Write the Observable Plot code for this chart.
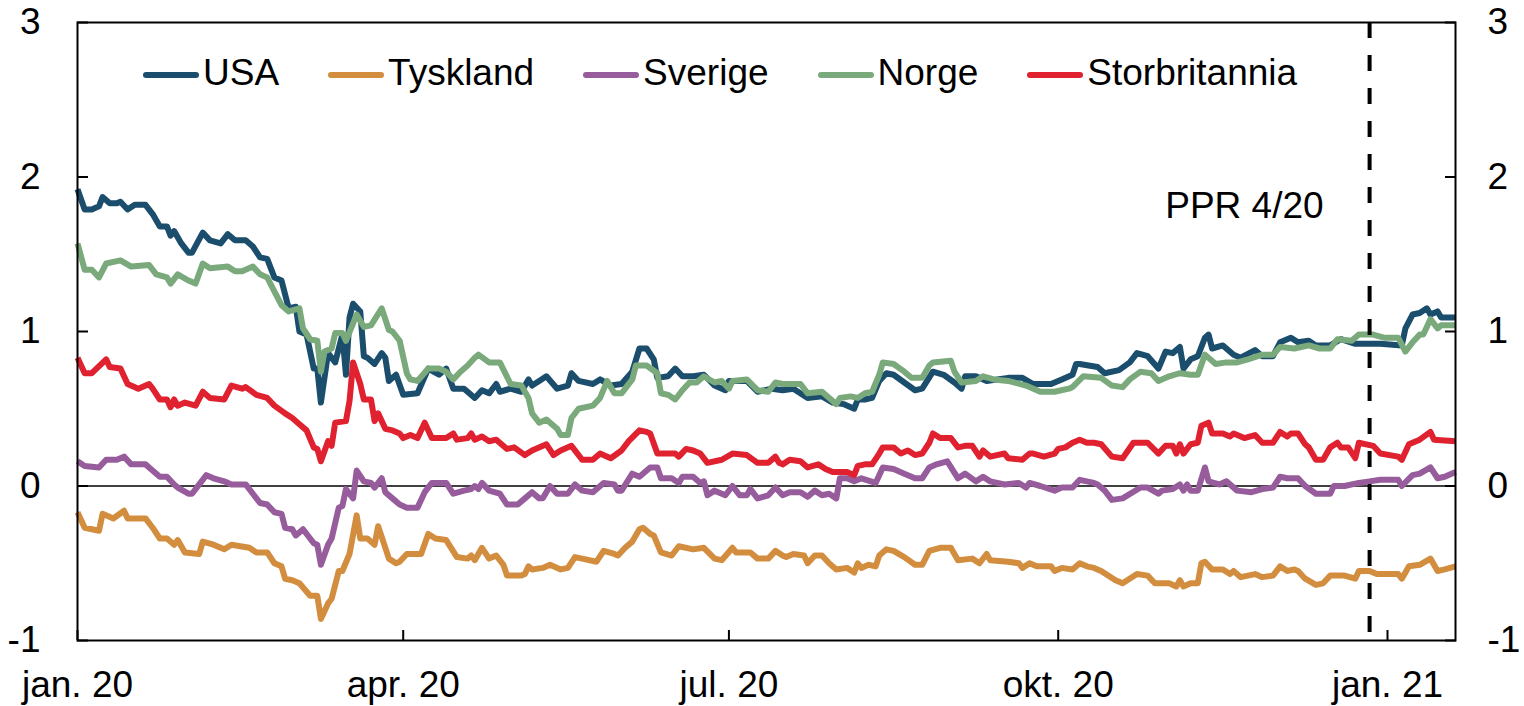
<!DOCTYPE html>
<html><head><meta charset="utf-8">
<script src="https://cdn.jsdelivr.net/npm/d3@7"></script>
<script src="https://cdn.jsdelivr.net/npm/@observablehq/plot@0.6"></script>
<style>
body{margin:0;background:#fff;font-family:"Liberation Sans",Arial,sans-serif;}
#wrap{position:relative;width:1524px;height:706px;}
#legend{position:absolute;left:143px;top:54px;display:flex;gap:49px;font-size:37px;line-height:37px;color:#000;}
.item{display:flex;align-items:center;white-space:nowrap;}
.sw{width:56px;height:6px;margin-right:4px;border-radius:3px;position:relative;top:2px;}
</style></head><body><div id="wrap"><div id="legend"></div></div>
<script>
// Series names and colours
const seriesNames = ["USA", "Tyskland", "Sverige", "Norge", "Storbritannia"];
const seriesColors = ["#1b4d6d", "#d38d3f", "#975c9b", "#7aa97c", "#e0212f"];

// [days since 1 Jan 2020, value]
const usa = [[0,1.92],[2,1.79],[4,1.79],[6,1.81],[7,1.87],[9,1.83],[11,1.83],[12,1.84],[14,1.79],[16,1.82],[19,1.82],[21,1.76],[23,1.68],[25,1.68],[26,1.62],[27,1.65],[29,1.57],[31,1.51],[32,1.51],[35,1.64],[37,1.59],[40,1.57],[42,1.63],[44,1.59],[47,1.59],[49,1.55],[51,1.48],[53,1.47],[55,1.35],[57,1.33],[59,1.15],[61,1.16],[62,1.00],[64,0.98],[66,0.76],[67,0.76],[68,0.54],[70,0.86],[72,0.80],[74,0.98],[75,0.72],[76,1.09],[77,1.18],[79,1.13],[80,0.84],[81,0.83],[83,0.79],[85,0.86],[86,0.83],[87,0.68],[89,0.72],[91,0.59],[95,0.60],[98,0.76],[101,0.72],[103,0.76],[105,0.63],[108,0.63],[111,0.57],[113,0.62],[115,0.60],[117,0.66],[118,0.61],[121,0.63],[124,0.61],[126,0.69],[127,0.65],[129,0.68],[131,0.71],[134,0.63],[137,0.65],[138,0.73],[140,0.68],[144,0.66],[146,0.69],[149,0.65],[152,0.66],[155,0.74],[157,0.89],[159,0.89],[161,0.82],[162,0.70],[165,0.71],[167,0.76],[169,0.71],[172,0.71],[175,0.72],[178,0.65],[181,0.62],[182,0.68],[187,0.68],[190,0.61],[194,0.63],[197,0.62],[200,0.63],[204,0.57],[208,0.58],[211,0.54],[214,0.53],[217,0.50],[218,0.56],[220,0.56],[222,0.57],[224,0.68],[226,0.73],[228,0.72],[231,0.67],[234,0.62],[236,0.63],[239,0.74],[242,0.72],[245,0.67],[247,0.63],[248,0.71],[251,0.71],[254,0.68],[260,0.70],[264,0.70],[267,0.66],[272,0.66],[275,0.69],[278,0.72],[279,0.79],[280,0.79],[285,0.77],[287,0.73],[291,0.75],[294,0.80],[296,0.86],[299,0.84],[302,0.76],[304,0.87],[306,0.86],[308,0.90],[309,0.76],[311,0.82],[313,0.84],[315,0.96],[316,0.98],[317,0.89],[320,0.91],[323,0.85],[325,0.83],[329,0.88],[331,0.84],[334,0.84],[336,0.93],[339,0.96],[341,0.93],[344,0.94],[346,0.91],[350,0.91],[353,0.95],[357,0.92],[361,0.92],[364,0.92],[370,0.91],[371,1.02],[373,1.11],[375,1.12],[377,1.15],[378,1.11],[380,1.13],[381,1.09],[385,1.09]];

const tyskland = [[0,-0.17],[2,-0.27],[6,-0.29],[7,-0.18],[10,-0.21],[13,-0.16],[14,-0.21],[19,-0.21],[21,-0.27],[23,-0.34],[25,-0.34],[27,-0.38],[28,-0.35],[30,-0.43],[34,-0.44],[35,-0.36],[38,-0.38],[41,-0.41],[43,-0.38],[48,-0.40],[50,-0.43],[53,-0.43],[55,-0.50],[57,-0.52],[58,-0.60],[60,-0.61],[62,-0.63],[65,-0.71],[67,-0.71],[68,-0.86],[70,-0.76],[71,-0.73],[73,-0.55],[74,-0.55],[76,-0.44],[78,-0.19],[79,-0.34],[81,-0.34],[83,-0.38],[84,-0.26],[87,-0.47],[89,-0.50],[90,-0.49],[92,-0.44],[96,-0.44],[98,-0.31],[100,-0.34],[103,-0.35],[106,-0.46],[109,-0.47],[110,-0.45],[111,-0.48],[113,-0.40],[115,-0.47],[117,-0.45],[119,-0.51],[120,-0.58],[124,-0.58],[125,-0.57],[126,-0.52],[127,-0.54],[130,-0.53],[132,-0.51],[135,-0.54],[137,-0.53],[139,-0.46],[141,-0.47],[145,-0.49],[147,-0.42],[150,-0.44],[151,-0.45],[153,-0.40],[155,-0.36],[157,-0.28],[158,-0.27],[160,-0.31],[161,-0.32],[163,-0.43],[166,-0.45],[168,-0.39],[172,-0.41],[175,-0.40],[178,-0.47],[180,-0.48],[183,-0.40],[184,-0.43],[188,-0.43],[190,-0.47],[193,-0.47],[195,-0.42],[197,-0.45],[198,-0.46],[200,-0.44],[203,-0.45],[204,-0.50],[206,-0.45],[208,-0.45],[210,-0.50],[212,-0.54],[215,-0.53],[217,-0.56],[218,-0.50],[219,-0.53],[221,-0.51],[223,-0.52],[224,-0.45],[226,-0.41],[228,-0.42],[231,-0.46],[234,-0.51],[236,-0.51],[238,-0.42],[241,-0.40],[244,-0.40],[246,-0.48],[250,-0.47],[252,-0.50],[254,-0.44],[255,-0.48],[260,-0.49],[263,-0.50],[264,-0.53],[266,-0.50],[268,-0.52],[272,-0.52],[273,-0.55],[275,-0.53],[278,-0.54],[280,-0.50],[282,-0.52],[284,-0.53],[286,-0.55],[290,-0.61],[292,-0.63],[296,-0.57],[299,-0.58],[301,-0.63],[305,-0.63],[307,-0.65],[308,-0.61],[309,-0.65],[311,-0.63],[313,-0.63],[314,-0.50],[315,-0.49],[317,-0.54],[320,-0.54],[322,-0.57],[323,-0.55],[325,-0.59],[329,-0.57],[331,-0.59],[334,-0.58],[336,-0.52],[338,-0.55],[340,-0.54],[341,-0.55],[343,-0.60],[346,-0.64],[348,-0.63],[350,-0.58],[354,-0.58],[357,-0.60],[358,-0.55],[361,-0.55],[363,-0.57],[369,-0.57],[370,-0.60],[372,-0.52],[375,-0.51],[378,-0.47],[380,-0.55],[382,-0.54],[385,-0.52]];

const sverige = [[0,0.16],[2,0.13],[6,0.12],[8,0.17],[11,0.17],[13,0.19],[15,0.14],[19,0.14],[20,0.12],[23,0.06],[25,0.06],[27,0.01],[28,-0.01],[31,-0.05],[32,-0.05],[34,0.01],[36,0.07],[38,0.05],[41,0.03],[43,0.01],[47,0.01],[49,-0.05],[51,-0.11],[53,-0.12],[55,-0.17],[57,-0.18],[58,-0.27],[60,-0.28],[61,-0.32],[63,-0.28],[65,-0.34],[66,-0.37],[67,-0.38],[68,-0.51],[70,-0.38],[71,-0.34],[73,-0.14],[74,-0.13],[75,-0.02],[77,-0.08],[78,0.10],[80,0.03],[82,0.02],[83,-0.01],[85,0.05],[86,-0.04],[88,-0.08],[90,-0.12],[92,-0.14],[95,-0.14],[97,-0.04],[99,0.02],[103,0.02],[105,-0.05],[108,-0.03],[110,-0.02],[111,0.00],[112,-0.02],[113,0.02],[115,-0.03],[118,-0.05],[120,-0.12],[123,-0.12],[125,-0.08],[127,-0.04],[129,-0.08],[130,-0.08],[132,0.00],[134,-0.05],[137,-0.05],[139,0.01],[141,-0.03],[144,-0.04],[147,0.02],[150,0.01],[151,-0.03],[152,-0.03],[155,0.08],[157,0.06],[160,0.12],[162,0.12],[163,0.05],[166,0.05],[168,0.02],[169,0.06],[172,0.06],[174,0.02],[175,0.03],[176,-0.06],[178,-0.03],[181,-0.06],[183,0.00],[185,-0.06],[187,-0.06],[188,-0.02],[190,-0.08],[193,-0.06],[195,-0.01],[197,-0.06],[199,-0.04],[202,-0.04],[204,-0.07],[206,-0.03],[208,-0.06],[210,-0.05],[212,-0.08],[213,0.05],[215,0.05],[217,0.03],[219,0.05],[223,0.02],[225,0.12],[228,0.11],[231,0.08],[234,0.05],[236,0.05],[238,0.12],[240,0.14],[243,0.16],[246,0.05],[248,0.08],[251,0.03],[253,0.06],[255,0.03],[259,0.01],[263,0.02],[265,-0.01],[266,0.02],[269,0.00],[273,-0.03],[275,-0.01],[278,-0.01],[280,0.04],[284,0.02],[285,0.01],[287,-0.03],[289,-0.09],[292,-0.08],[297,-0.01],[299,-0.01],[302,-0.05],[303,-0.03],[306,-0.02],[308,0.01],[309,-0.03],[310,0.01],[311,-0.03],[313,-0.03],[315,0.12],[316,0.03],[319,0.01],[321,0.03],[324,-0.03],[328,-0.04],[331,-0.02],[334,-0.01],[336,0.06],[338,0.05],[341,0.05],[343,0.00],[346,-0.05],[350,-0.05],[351,0.00],[354,0.00],[358,0.02],[361,0.03],[364,0.04],[369,0.04],[370,0.00],[373,0.07],[375,0.08],[378,0.12],[380,0.05],[382,0.06],[385,0.09]];

const norge = [[0,1.57],[2,1.40],[4,1.40],[6,1.35],[8,1.44],[12,1.46],[15,1.42],[20,1.43],[22,1.37],[25,1.35],[26,1.31],[28,1.37],[31,1.33],[33,1.31],[35,1.44],[37,1.41],[42,1.42],[44,1.39],[46,1.39],[49,1.42],[51,1.37],[53,1.35],[55,1.26],[57,1.17],[59,1.13],[62,1.15],[63,1.02],[65,0.95],[67,0.94],[68,0.74],[69,0.87],[71,0.89],[72,0.99],[74,0.99],[75,0.94],[78,1.11],[80,1.03],[82,1.04],[85,1.15],[87,1.01],[88,1.00],[90,0.94],[92,0.73],[93,0.69],[95,0.68],[98,0.76],[101,0.76],[103,0.74],[105,0.69],[107,0.74],[109,0.78],[111,0.83],[112,0.85],[115,0.80],[118,0.80],[121,0.66],[124,0.65],[126,0.57],[127,0.47],[129,0.41],[131,0.43],[134,0.37],[135,0.33],[137,0.33],[138,0.44],[140,0.50],[144,0.52],[146,0.57],[148,0.68],[150,0.60],[152,0.60],[155,0.69],[156,0.78],[159,0.78],[162,0.73],[163,0.60],[165,0.59],[167,0.56],[169,0.62],[171,0.67],[173,0.67],[175,0.71],[178,0.67],[180,0.68],[182,0.63],[183,0.68],[187,0.69],[190,0.62],[193,0.61],[195,0.67],[197,0.66],[202,0.66],[204,0.60],[208,0.61],[212,0.53],[213,0.57],[216,0.58],[218,0.57],[220,0.60],[222,0.61],[224,0.72],[225,0.80],[228,0.79],[231,0.74],[233,0.70],[236,0.70],[238,0.78],[239,0.80],[244,0.81],[245,0.74],[247,0.67],[251,0.68],[253,0.71],[256,0.69],[260,0.68],[265,0.65],[269,0.61],[273,0.61],[277,0.63],[278,0.64],[281,0.71],[286,0.70],[289,0.65],[292,0.64],[294,0.69],[297,0.74],[300,0.73],[302,0.68],[305,0.71],[308,0.73],[311,0.72],[313,0.72],[315,0.85],[318,0.79],[321,0.80],[324,0.80],[327,0.82],[331,0.85],[334,0.85],[336,0.90],[340,0.89],[344,0.91],[347,0.89],[350,0.89],[352,0.95],[356,0.94],[358,0.98],[362,0.98],[365,0.96],[369,0.96],[371,0.87],[373,0.93],[375,0.98],[376,0.98],[378,1.08],[380,1.02],[381,1.04],[385,1.04]];

const storbritannia = [[0,0.83],[2,0.73],[4,0.73],[8,0.82],[9,0.77],[12,0.76],[14,0.66],[17,0.63],[20,0.66],[21,0.63],[23,0.56],[25,0.56],[26,0.51],[27,0.56],[28,0.52],[30,0.54],[33,0.52],[35,0.61],[37,0.57],[41,0.56],[43,0.65],[46,0.63],[47,0.64],[50,0.59],[53,0.57],[55,0.52],[58,0.47],[60,0.44],[62,0.40],[64,0.36],[66,0.25],[67,0.24],[68,0.16],[70,0.29],[71,0.26],[72,0.41],[75,0.42],[76,0.55],[77,0.80],[79,0.66],[80,0.56],[82,0.56],[83,0.42],[84,0.47],[86,0.37],[88,0.36],[90,0.34],[91,0.31],[93,0.33],[95,0.31],[97,0.41],[99,0.31],[103,0.31],[105,0.34],[106,0.30],[109,0.31],[110,0.34],[111,0.30],[113,0.32],[115,0.29],[117,0.30],[120,0.24],[122,0.25],[125,0.20],[127,0.23],[131,0.27],[133,0.20],[135,0.23],[138,0.26],[141,0.17],[144,0.17],[146,0.21],[148,0.19],[149,0.18],[152,0.23],[154,0.29],[157,0.36],[159,0.35],[160,0.34],[162,0.21],[167,0.21],[168,0.19],[170,0.24],[172,0.23],[174,0.21],[176,0.15],[180,0.17],[183,0.21],[187,0.20],[190,0.15],[193,0.15],[195,0.19],[196,0.15],[197,0.14],[199,0.17],[202,0.16],[204,0.12],[207,0.14],[209,0.11],[211,0.09],[215,0.09],[217,0.07],[218,0.13],[220,0.14],[222,0.14],[224,0.21],[225,0.25],[228,0.25],[230,0.21],[232,0.23],[234,0.20],[236,0.21],[238,0.28],[239,0.34],[241,0.31],[244,0.31],[246,0.25],[248,0.26],[250,0.26],[252,0.19],[253,0.23],[255,0.19],[259,0.21],[260,0.18],[264,0.17],[266,0.21],[267,0.21],[270,0.19],[273,0.21],[274,0.24],[276,0.25],[278,0.28],[280,0.30],[282,0.28],[284,0.28],[286,0.27],[289,0.19],[292,0.18],[295,0.28],[299,0.28],[302,0.21],[304,0.26],[306,0.26],[307,0.21],[308,0.27],[309,0.21],[311,0.27],[313,0.28],[314,0.39],[316,0.41],[317,0.34],[320,0.34],[322,0.32],[323,0.34],[326,0.31],[329,0.33],[331,0.28],[334,0.28],[336,0.35],[338,0.32],[339,0.34],[341,0.34],[343,0.27],[344,0.25],[346,0.17],[348,0.17],[350,0.25],[352,0.28],[353,0.25],[355,0.25],[357,0.18],[358,0.28],[362,0.26],[364,0.21],[369,0.19],[370,0.17],[372,0.27],[375,0.30],[378,0.35],[379,0.30],[385,0.29]];

// Axis ticks and labels
const xTickDates = ["2020-01-01", "2020-04-01", "2020-07-01", "2020-10-01", "2021-01-01"];
const xTickLabels = ["jan. 20", "apr. 20", "jul. 20", "okt. 20", "jan. 21"];
const yTicks = [-1, 0, 1, 2, 3];
const xStart = "2020-01-01";
const xEnd = "2021-01-20";
// PPR annotation
const pprDate = "2020-12-27";
const pprLabel = "PPR 4/20";
const pprLabelY = 1.81;

const seriesData = [usa, tyskland, sverige, norge, storbritannia];
const base = new Date(xStart + "T00:00:00Z");
const toDate = d => new Date(base.getTime() + d * 864e5);
const rows = seriesNames.flatMap((name, i) =>
  seriesData[i].map(([d, v]) => ({series: name, date: toDate(d), value: v})));
const tickDates = xTickDates.map(s => new Date(s + "T00:00:00Z"));
const labelOf = new Map(tickDates.map((d, i) => [+d, xTickLabels[i]]));
const ppr = new Date(pprDate + "T00:00:00Z");

const chart = Plot.plot({
  width: 1524,
  height: 706,
  marginLeft: 77,
  marginRight: 69,
  marginTop: 22,
  marginBottom: 66,
  style: {fontFamily: "'Liberation Sans', Arial, sans-serif", fontSize: "37px", color: "#000", background: "#fff"},
  x: {type: "utc", domain: [new Date(xStart + "T00:00:00Z"), new Date(xEnd + "T00:00:00Z")]},
  y: {domain: [-1, 3]},
  color: {domain: seriesNames, range: seriesColors},
  marks: [
    Plot.ruleY([0], {stroke: "#000", strokeWidth: 1.5}),
    Plot.line(rows, {x: "date", y: "value", z: "series", stroke: "series", strokeWidth: 6, strokeLinejoin: "round", strokeLinecap: "butt"}),
    Plot.ruleX([ppr], {stroke: "#000", strokeWidth: 4, strokeDasharray: "16,17"}),
    Plot.text([{date: ppr, y: pprLabelY, label: pprLabel}], {x: "date", y: "y", text: "label", textAnchor: "end", dx: -46, fontSize: 37, fill: "#000"}),
    Plot.frame({stroke: "#000", strokeWidth: 2}),
    Plot.axisY({anchor: "left", ticks: yTicks, tickSize: -11, tickPadding: 48, fontSize: 37, tickFormat: d => String(d), label: null, strokeWidth: 2}),
    Plot.axisY({anchor: "right", ticks: yTicks, tickSize: -11, tickPadding: 43, fontSize: 37, tickFormat: d => String(d), label: null, strokeWidth: 2}),
    Plot.axisX({anchor: "bottom", ticks: tickDates, tickSize: -10, tickPadding: 40, fontSize: 37, tickFormat: d => labelOf.get(+d), label: null, strokeWidth: 2})
  ]
});
document.getElementById("wrap").appendChild(chart);

const legend = document.getElementById("legend");
seriesNames.forEach((name, i) => {
  const item = document.createElement("div");
  item.className = "item";
  const sw = document.createElement("span");
  sw.className = "sw";
  sw.style.background = seriesColors[i];
  const t = document.createElement("span");
  t.textContent = name;
  item.appendChild(sw);
  item.appendChild(t);
  legend.appendChild(item);
});
</script></body></html>
